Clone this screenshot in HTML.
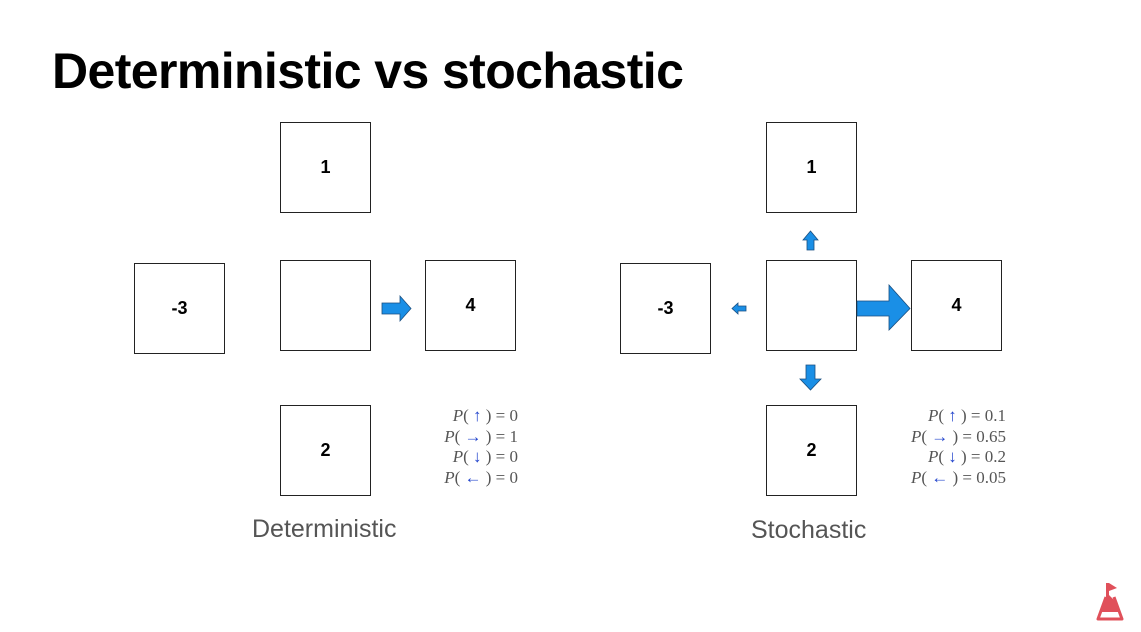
<!DOCTYPE html>
<html><head><style>
body{margin:0;width:1141px;height:632px;background:#fff;position:relative;overflow:hidden;font-family:"Liberation Sans",sans-serif}
.t{position:absolute;left:52px;top:42px;font-size:50px;font-weight:bold;color:#000;letter-spacing:-0.6px}
.b{position:absolute;width:91px;height:91px;border:1px solid #222;box-sizing:border-box;display:flex;align-items:center;justify-content:center;font-size:18px;font-weight:bold}
.l{position:absolute;font-size:25px;color:#555}
.p{position:absolute;font-family:"Liberation Serif",serif;font-size:17px;color:#555;line-height:20.7px;text-align:right}
.p i{font-style:italic}.p span{color:#2244cc}
</style></head><body>
<div class="t">Deterministic vs stochastic</div>
<div class="b" style="left:280px;top:122px">1</div>
<div class="b" style="left:280px;top:260px"></div>
<div class="b" style="left:134px;top:263px">-3</div>
<div class="b" style="left:425px;top:260px">4</div>
<div class="b" style="left:280px;top:405px">2</div>
<div class="b" style="left:766px;top:122px">1</div>
<div class="b" style="left:766px;top:260px"></div>
<div class="b" style="left:620px;top:263px">-3</div>
<div class="b" style="left:911px;top:260px">4</div>
<div class="b" style="left:766px;top:405px">2</div>
<svg width="1141" height="632" style="position:absolute;left:0;top:0">
<g fill="#1a8fe6" stroke="#1a4f80" stroke-width="0.8">
<polygon points="382,303 400,303 400,296 411,308.5 400,321 400,314 382,314"/>
<polygon points="807,250 807,240 803,240 810.5,231 818,240 814,240 814,250"/>
<polygon points="746,306 738,306 738,303 732,308.5 738,314 738,311 746,311"/>
<polygon points="857,301 889,301 889,285 910,308.5 889,330 889,316 857,316"/>
<polygon points="806,365 815,365 815,379 821,379 810.5,390 800,379 806,379"/>
</g>
<g fill="none" stroke="#e0505a" stroke-width="3" stroke-linejoin="round">
<path d="M1106 597 L1098 619 L1122 619 L1114 597"/>
</g>
<path d="M1106 583 L1106 600 L1100 612 L1120 612 L1114 600 L1109 595 L1109 591 L1117 588 L1109 583Z" fill="#e0505a"/>
</svg>
<div class="p" style="left:400px;top:406px;width:118px"><i>P</i>( <span>↑</span> ) = 0<br><i>P</i>( <span>→</span> ) = 1<br><i>P</i>( <span>↓</span> ) = 0<br><i>P</i>( <span>←</span> ) = 0</div>
<div class="p" style="left:880px;top:406px;width:126px"><i>P</i>( <span>↑</span> ) = 0.1<br><i>P</i>( <span>→</span> ) = 0.65<br><i>P</i>( <span>↓</span> ) = 0.2<br><i>P</i>( <span>←</span> ) = 0.05</div>
<div class="l" style="left:252px;top:515px">Deterministic</div>
<div class="l" style="left:751px;top:516px">Stochastic</div>
</body></html>
